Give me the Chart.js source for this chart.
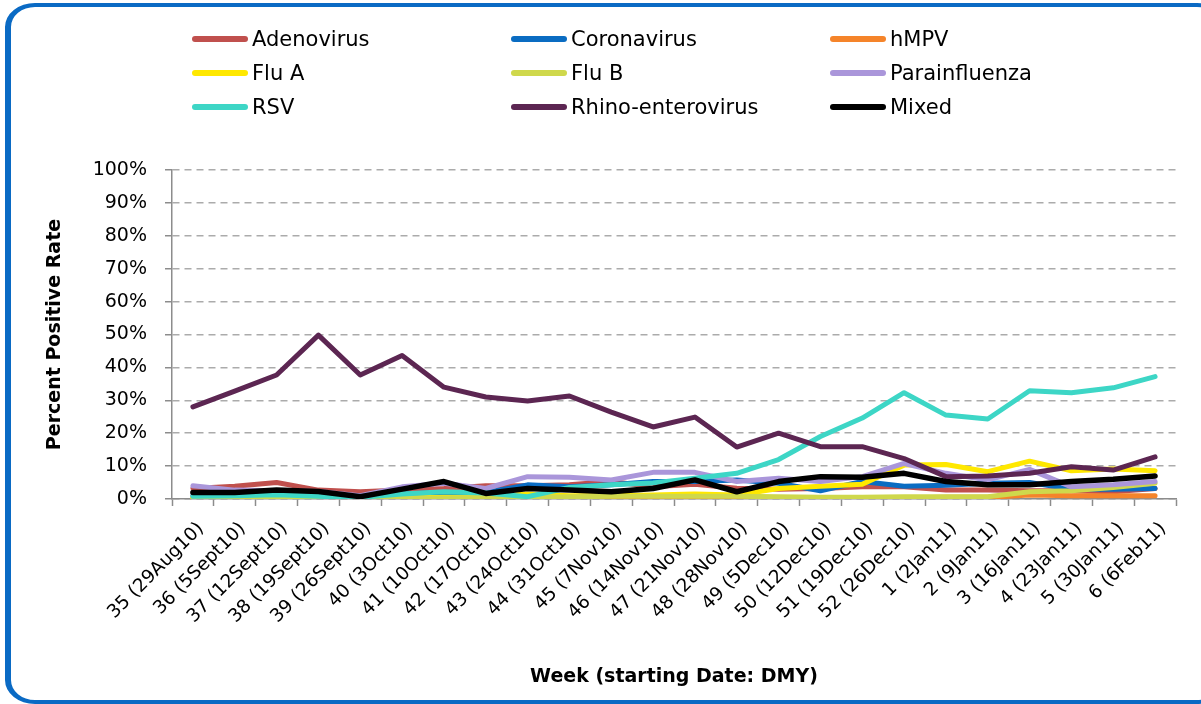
<!DOCTYPE html>
<html>
<head>
<meta charset="utf-8">
<script src="https://cdn.jsdelivr.net/npm/chart.js@4/dist/chart.umd.min.js"></script>
<style>
  html, body { margin: 0; padding: 0; background: #fff; width: 1201px; height: 704px; overflow: hidden; }
  #wrap { position: relative; width: 1201px; height: 704px; }
  #frame { position: absolute; left: 5px; top: 3px; width: 1210px; height: 693px;
           border-style: solid; border-color: #0A6AC4; border-width: 4.5px 6px 4.5px 6px;
           border-radius: 30px / 24px; box-sizing: content-box; }
  #c { position: absolute; left: 0; top: 0; }
  .lg { position: absolute; font-family: "DejaVu Sans", sans-serif; font-size: 21px; color: #000; line-height: 24px; white-space: nowrap; }
  .lg span.sw { position: absolute; left: 0; top: 9px; width: 56px; height: 5.5px; border-radius: 3px; }
  .lg span.tx { position: absolute; left: 60px; top: 0; }
</style>
</head>
<body>
<div id="wrap">
  <div id="frame"></div>
  <canvas id="c" width="1201" height="704"></canvas>
  <div id="legend"></div>
</div>
<script>
const weeks = ["35 (29Aug10)","36 (5Sept10)","37 (12Sept10)","38 (19Sept10)","39 (26Sept10)","40 (3Oct10)","41 (10Oct10)","42 (17Oct10)","43 (24Oct10)","44 (31Oct10)","45 (7Nov10)","46 (14Nov10)","47 (21Nov10)","48 (28Nov10)","49 (5Dec10)","50 (12Dec10)","51 (19Dec10)","52 (26Dec10)","1 (2Jan11)","2 (9Jan11)","3 (16Jan11)","4 (23Jan11)","5 (30Jan11)","6 (6Feb11)"];

const adenovirus    = [3.2, 3.9, 5.0, 2.7, 2.2, 2.7, 3.2, 4.0, 4.0, 4.3, 5.3, 3.7, 4.5, 3.3, 3.0, 3.2, 3.7, 3.7, 2.7, 2.7, 2.5, 2.5, 2.2, 3.2];
const coronavirus   = [1.0, 1.0, 1.2, 1.0, 0.5, 1.5, 2.0, 2.0, 4.3, 3.7, 4.3, 5.3, 5.3, 5.8, 4.8, 2.5, 5.3, 3.9, 4.2, 4.8, 5.0, 3.0, 3.0, 3.2];
const hmpv          = [0.1, 0.1, 0.1, 0.1, 0.1, 0.1, 0.1, 0.1, 0.1, 0.1, 0.1, 0.1, 0.1, 0.1, 0.2, 0.3, 0.3, 0.3, 0.5, 0.5, 1.2, 1.0, 1.0, 1.0];
const fluA          = [0.3, 0.3, 0.3, 0.3, 0.2, 0.3, 0.5, 0.5, 1.5, 1.0, 1.0, 1.2, 1.5, 1.2, 3.2, 3.9, 4.5, 10.3, 10.5, 8.3, 11.5, 8.6, 9.1, 8.6];
const fluB          = [0.3, 0.3, 0.3, 0.3, 0.2, 0.3, 0.3, 0.5, 0.5, 0.7, 0.8, 0.8, 0.8, 0.8, 0.7, 0.5, 0.5, 0.7, 0.7, 0.7, 2.2, 2.5, 3.5, 4.8];
const parainfluenza = [4.0, 2.7, 2.5, 2.3, 1.0, 3.7, 4.8, 3.2, 6.8, 6.6, 5.8, 8.1, 8.1, 5.3, 6.3, 5.3, 6.8, 10.8, 7.8, 5.8, 9.0, 3.7, 4.3, 5.3];
const rsv           = [0.8, 1.0, 1.3, 0.8, 0.5, 1.5, 2.2, 1.8, 0.7, 3.5, 4.3, 4.9, 6.3, 7.8, 12.0, 19.0, 24.6, 32.3, 25.5, 24.3, 32.9, 32.3, 33.8, 37.2];
const rhino         = [28.0, 32.8, 37.7, 49.8, 37.7, 43.6, 34.0, 31.0, 29.8, 31.3, 26.4, 21.9, 24.9, 15.8, 20.0, 15.9, 15.9, 12.3, 6.8, 7.0, 7.8, 9.8, 8.8, 12.8];
const mixed         = [2.0, 2.0, 2.7, 2.3, 0.7, 3.0, 5.3, 1.7, 3.2, 2.7, 2.2, 3.2, 5.8, 2.2, 5.3, 6.8, 6.6, 7.8, 5.3, 4.3, 4.3, 5.3, 6.0, 7.0];

const yTicks = [0, 10, 20, 30, 40, 50, 60, 70, 80, 90, 100];

const seriesNames  = ["Adenovirus","Coronavirus","hMPV","Flu A","Flu B","Parainfluenza","RSV","Rhino-enterovirus","Mixed"];
const seriesColors = ["#C0504D","#0A6CC2","#F5842A","#FFE800","#CFD84C","#AA96DA","#3DD6C6","#5C2652","#000000"];
const seriesData   = [adenovirus, coronavirus, hmpv, fluA, fluB, parainfluenza, rsv, rhino, mixed];

// HTML legend (3 columns)
const legendCols = [192, 511, 830];
const legendRows = [27, 61, 95];
const lg = document.getElementById('legend');
seriesNames.forEach((n, i) => {
  const d = document.createElement('div');
  d.className = 'lg';
  d.style.left = legendCols[i % 3] + 'px';
  d.style.top = legendRows[Math.floor(i / 3)] + 'px';
  d.innerHTML = '<span class="sw" style="background:' + seriesColors[i] + '"></span><span class="tx"></span>';
  d.querySelector('.tx').textContent = n;
  lg.appendChild(d);
});

const datasets = seriesNames.map((n, i) => ({
  label: n,
  data: seriesData[i],
  borderColor: seriesColors[i],
  backgroundColor: seriesColors[i],
  borderWidth: i === 8 ? 5.5 : 5,
  pointRadius: 0,
  tension: 0,
  fill: false,
  borderJoinStyle: 'round',
  borderCapStyle: 'round',
  order: 8 - i
}));

new Chart(document.getElementById('c'), {
  type: 'line',
  data: { labels: weeks, datasets },
  options: {
    responsive: false,
    animation: false,
    devicePixelRatio: 1,
    layout: { padding: { left: 0, top: 170, right: 25, bottom: 0 } },
    plugins: { legend: { display: false }, tooltip: { enabled: false } },
    scales: {
      x: {
        type: 'category',
        offset: true,
        grid: { display: true, drawOnChartArea: false, offset: true, tickLength: 7, tickColor: '#8C8C8C', tickWidth: 1.5 },
        border: { display: true, color: '#8C8C8C', width: 1.5 },
        ticks: {
          autoSkip: false, minRotation: 45, maxRotation: 45, padding: 12, labelOffset: 8, color: '#000',
          font: { family: 'DejaVu Sans', size: 18.5 }
        },
        title: {
          display: true, text: 'Week (starting Date: DMY)', color: '#000',
          font: { family: 'DejaVu Sans', size: 19, weight: 'bold' },
          padding: { top: 0, bottom: 16 }
        },
        afterFit(scale) { scale.height = 205; }
      },
      y: {
        min: 0, max: 100,
        afterBuildTicks(scale) { scale.ticks = yTicks.map(v => ({ value: v })); },
        grid: { color: '#ABABAB', lineWidth: 1.5, tickLength: 7, tickColor: '#8C8C8C', tickWidth: 1.5, tickBorderDash: [] },
        border: { display: true, color: '#8C8C8C', width: 1.5, dash: [7, 5] },
        ticks: {
          padding: 18, color: '#000',
          font: { family: 'DejaVu Sans', size: 19 },
          callback: v => v + '%'
        },
        title: {
          display: true, text: 'Percent Positive Rate', color: '#000',
          font: { family: 'DejaVu Sans', size: 19, weight: 'bold' },
          padding: { top: 44, bottom: 0 }
        },
        afterFit(scale) { scale.width = 172; }
      }
    }
  }
});
</script>
</body>
</html>
